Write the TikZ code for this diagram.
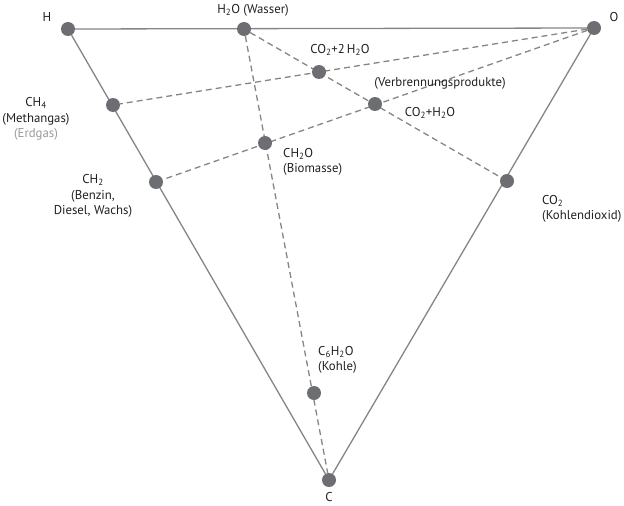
\documentclass[tikz,border=0pt]{standalone}
\usetikzlibrary{positioning, backgrounds}
\usepackage{fontspec}
\setmainfont{PT Sans}
\definecolor{dotgray}{HTML}{6D6E71}
\definecolor{linegray}{HTML}{858585}
\definecolor{softgray}{HTML}{9A9A9A}
\definecolor{textblack}{HTML}{231F20}
\newcommand{\sub}[1]{\textsubscript{#1}}

\begin{document}
\begin{tikzpicture}[x=1pt,y=-1pt,font=\fontsize{12.8}{15.5}\selectfont,text=textblack]
    \tikzstyle{point}=[circle,fill=dotgray,minimum size=14pt,inner sep=0pt]
    \tikzstyle{edge}=[draw=linegray,line width=1.3pt]
    \tikzstyle{link}=[edge,dash pattern=on 6pt off 4pt]
    \tikzstyle{annot}=[align=center,inner sep=0pt]
    \tikzstyle{annotl}=[align=left,anchor=west,inner sep=0pt]

    \useasboundingbox (0,0) rectangle (624,506);

    % corners
    \node[point] (H) at (68,29) {};
    \node[point] (O) at (594,28) {};
    \node[point] (C) at (329,480) {};
    % on the edges
    \node[point] (H2O) at (244,29) {};
    \node[point] (CH4) at (113,105) {};
    \node[point] (CH2) at (156,182) {};
    \node[point] (CO2) at (507,181) {};
    % inside
    \node[point] (CO2H2O2) at (319,72) {};
    \node[point] (CO2H2O) at (375,104) {};
    \node[point] (CH2O) at (265,143) {};
    \node[point] (C6H2O) at (314,393) {};

    \begin{pgfonlayer}{background}
        \path[edge] (H) -- (O);
        \path[edge] (H) -- (C);
        \path[edge] (O) -- (C);
        \path[link] (H2O) -- (C);
        \path[link] (H2O) -- (CO2);
        \path[link] (O) -- (CH4);
        \path[link] (O) -- (CH2);
    \end{pgfonlayer}

    \node[annot] (lH) at (47,17) {H};
    \node[annot] (lO) at (614,17) {O};
    \node[annot] (lC) at (329,497) {C};
    \node[annot] (lH2O) at (253,10) {H\sub{2}O (Wasser)};
    \node[annot] (lCH4) at (36,119) {CH\sub{4}\\(Methangas)\\\textcolor{softgray}{(Erdgas)}};
    \node[annot] (lCH2) at (93,196) {CH\sub{2}\\(Benzin,\\Diesel, Wachs)};
    \node[annot] (lCO2H2O2) at (340,50) {CO\sub{2}+2\,H\sub{2}O};
    \node[annot] (lVerb) at (440,83) {(Verbrennungsprodukte)};
    \node[annot] (lCO2H2O) at (430,113) {CO\sub{2}+H\sub{2}O};
    \node[annotl] (lCH2O) at (283,162) {CH\sub{2}O\\(Biomasse)};
    \node[annotl] (lCO2) at (542,209) {CO\sub{2}\\(Kohlendioxid)};
    \node[annotl] (lC6H2O) at (318,360) {C\sub{6}H\sub{2}O\\(Kohle)};
\end{tikzpicture}
\end{document}
